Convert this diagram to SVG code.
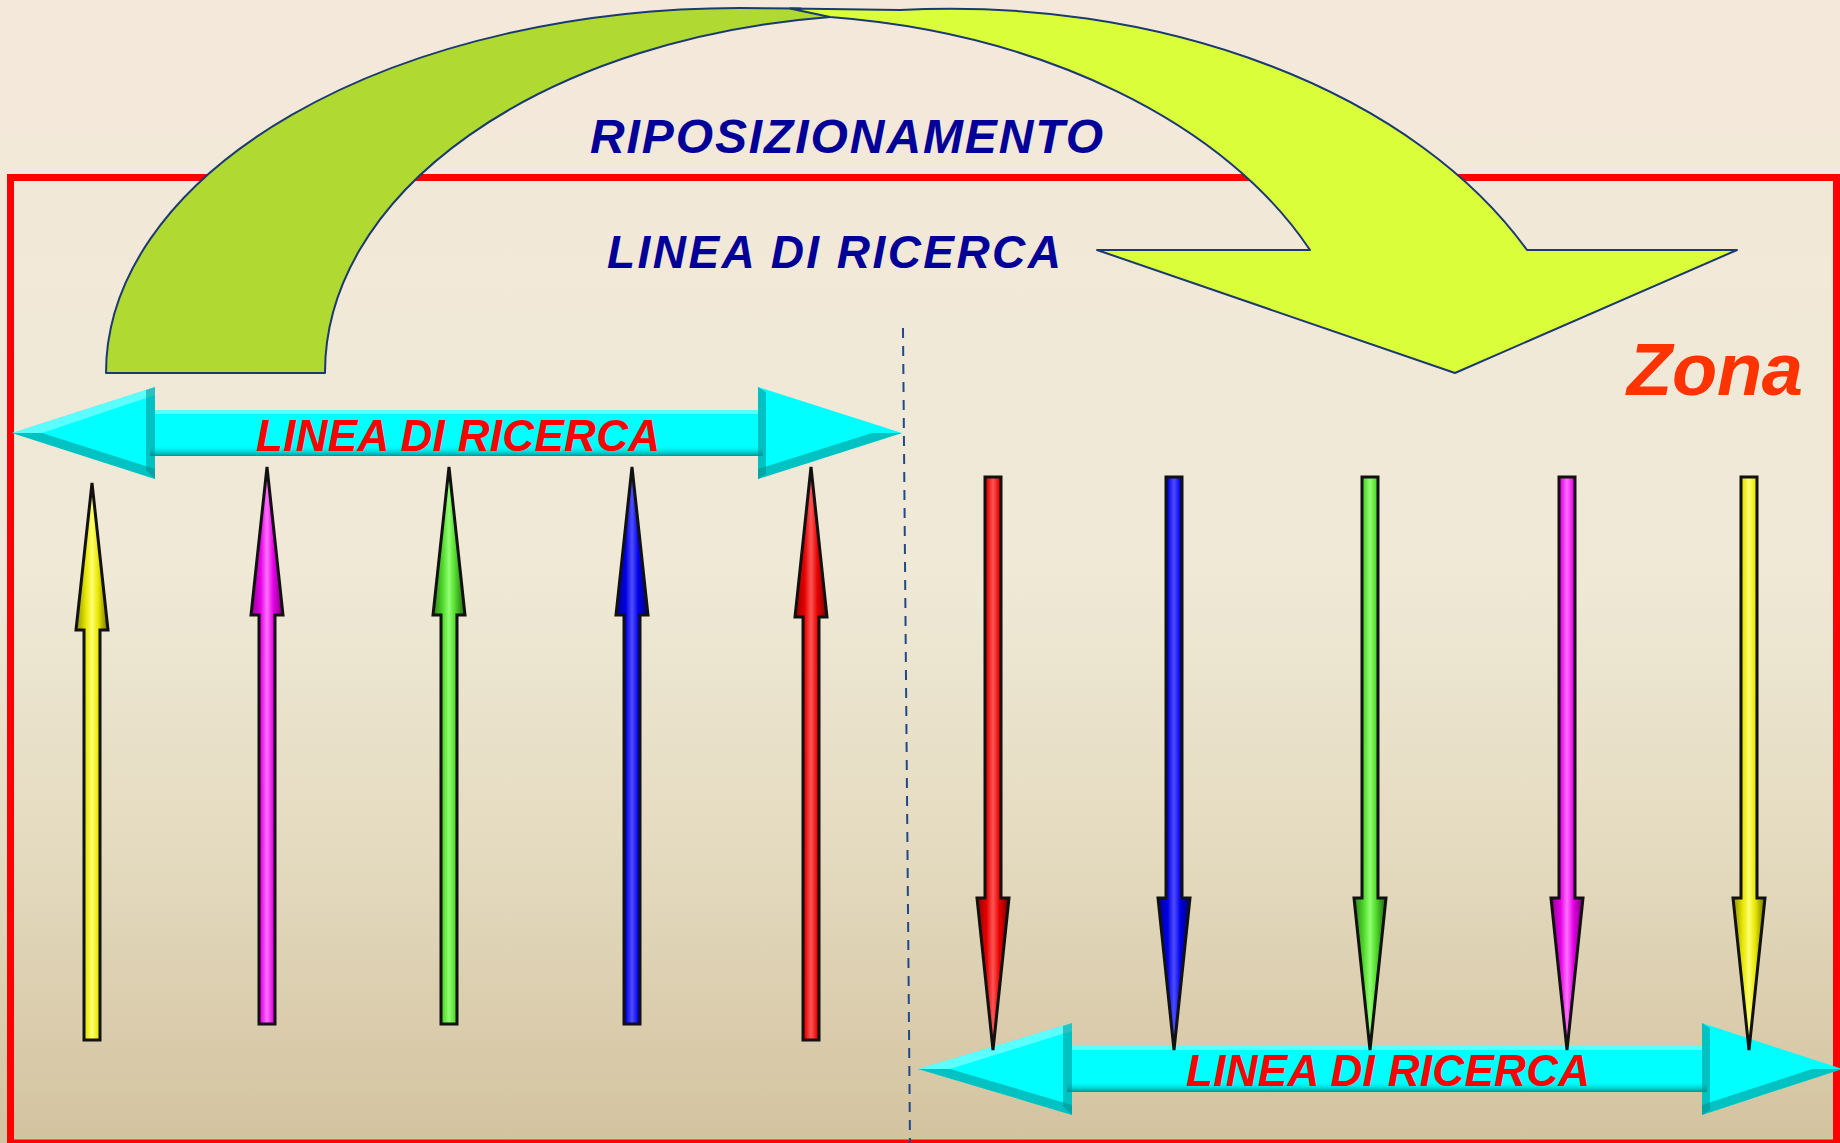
<svg xmlns="http://www.w3.org/2000/svg" width="1840" height="1143" viewBox="0 0 1840 1143">
<style>
.blue{font-family:"Liberation Sans",Arial,sans-serif;font-weight:bold;font-style:italic;fill:#000099}
.redt{font-family:"Liberation Sans Narrow","Liberation Sans",Arial,sans-serif;font-weight:bold;font-style:italic;fill:#FF0000;font-size:44px}
.zona{font-family:"Liberation Sans",Arial,sans-serif;font-weight:bold;font-style:italic;fill:#FF3300;font-size:74px}
.cy{fill:#00FFFF}
.bevd{fill:#008F8F;opacity:.55}
.bevl{fill:#B5FFFF;opacity:.5}
.ar{stroke:#111;stroke-width:3;stroke-linejoin:miter}
.curve{stroke:#1B3A70;stroke-width:2;stroke-linejoin:round}
</style>
<defs>
<linearGradient id="bg" x1="0" y1="0" x2="0" y2="1">
<stop offset="0" stop-color="#F4E8DA"/>
<stop offset="0.5" stop-color="#EFE9D6"/>
<stop offset="0.75" stop-color="#E4DABF"/>
<stop offset="1" stop-color="#D3C39F"/>
</linearGradient>
<linearGradient id="shaftShade" x1="0" y1="0" x2="0" y2="1">
<stop offset="0" stop-color="#00FFFF" stop-opacity="0"/>
<stop offset="1" stop-color="#008080" stop-opacity="0.85"/>
</linearGradient>
<linearGradient id="gY" x1="0" y1="0" x2="1" y2="0">
<stop offset="0" stop-color="#8C8C00"/><stop offset="0.3" stop-color="#E6E600"/><stop offset="0.5" stop-color="#FFFF70"/><stop offset="0.7" stop-color="#E6E600"/><stop offset="1" stop-color="#6E6E00"/>
</linearGradient>
<linearGradient id="gM" x1="0" y1="0" x2="1" y2="0">
<stop offset="0" stop-color="#8C008C"/><stop offset="0.3" stop-color="#E600E6"/><stop offset="0.5" stop-color="#FF70FF"/><stop offset="0.7" stop-color="#E600E6"/><stop offset="1" stop-color="#6E006E"/>
</linearGradient>
<linearGradient id="gG" x1="0" y1="0" x2="1" y2="0">
<stop offset="0" stop-color="#2E7A1A"/><stop offset="0.3" stop-color="#4FD82A"/><stop offset="0.5" stop-color="#90FF70"/><stop offset="0.7" stop-color="#4FD82A"/><stop offset="1" stop-color="#226012"/>
</linearGradient>
<linearGradient id="gB" x1="0" y1="0" x2="1" y2="0">
<stop offset="0" stop-color="#00008C"/><stop offset="0.3" stop-color="#0000E6"/><stop offset="0.5" stop-color="#4D4DFF"/><stop offset="0.7" stop-color="#0000E6"/><stop offset="1" stop-color="#00006E"/>
</linearGradient>
<linearGradient id="gR" x1="0" y1="0" x2="1" y2="0">
<stop offset="0" stop-color="#8C0000"/><stop offset="0.3" stop-color="#E60000"/><stop offset="0.5" stop-color="#FF5555"/><stop offset="0.7" stop-color="#E60000"/><stop offset="1" stop-color="#6E0000"/>
</linearGradient>
</defs>

<rect id="background" x="0" y="0" width="1840" height="1143" fill="url(#bg)"/>

<g id="zona-frame">
<rect x="10.5" y="177.5" width="1826" height="965.5" fill="none" stroke="#FF0000" stroke-width="7"/>
</g>

<g id="divider">
<line x1="903" y1="328" x2="910" y2="1143" stroke="#1F4A8A" stroke-width="2" stroke-dasharray="10 8"/>
</g>

<g id="riposizionamento-arrow">
<path class="curve" fill="#B0D932" d="M106,373 A634,365 0 0 1 740,8 L800,8.5 L830,17 A575,358 0 0 0 325,373 Z"/>
<path class="curve" fill="#DAFF3A" d="M790,8.5 L900,10 A640,425 0 0 1 1527,250 L1737,250 L1455,373 L1097,250 L1310,250 A600,393 0 0 0 830,17 Z"/>
</g>

<g id="label-riposizionamento">
<text class="blue" x="590" y="153" font-size="48" textLength="513">RIPOSIZIONAMENTO</text>
</g>
<g id="label-linea-top">
<text class="blue" x="607" y="268" font-size="46" textLength="454">LINEA DI RICERCA</text>
</g>

<g id="linea-left">
<path class="cy" d="M12,433 L155,387 L155,410 L758,410 L758,387 L902,433 L758,479 L758,456 L155,456 L155,479 Z"/>
<rect x="155" y="410" width="603" height="4" class="bevl"/>
<rect x="150" y="445" width="613" height="11" fill="url(#shaftShade)"/>
<polygon class="bevd" points="12,433 155,479 155,469 42,433"/>
<polygon class="bevl" points="12,433 155,387 155,395 42,433"/>
<polygon class="bevd" points="146,390 155,387 155,479 146,470"/>
<polygon class="bevd" points="758,479 902,433 872,433 758,469"/>
<polygon class="bevd" points="758,387 766,392 766,474 758,479"/>
<text class="redt" x="256" y="451" textLength="404">LINEA DI RICERCA</text>
</g>

<g id="linea-right">
<path class="cy" d="M918,1069 L1072,1023 L1072,1046 L1702,1046 L1702,1023 L1842,1069 L1702,1115 L1702,1092 L1072,1092 L1072,1115 Z"/>
<rect x="1072" y="1046" width="630" height="4" class="bevl"/>
<rect x="1067" y="1081" width="640" height="11" fill="url(#shaftShade)"/>
<polygon class="bevd" points="918,1069 1072,1115 1072,1105 950,1069"/>
<polygon class="bevl" points="918,1069 1072,1023 1072,1031 950,1069"/>
<polygon class="bevd" points="1063,1026 1072,1023 1072,1115 1063,1106"/>
<polygon class="bevd" points="1702,1115 1842,1069 1812,1069 1702,1105"/>
<polygon class="bevd" points="1702,1023 1710,1028 1710,1110 1702,1115"/>
<text class="redt" x="1186" y="1086" textLength="404">LINEA DI RICERCA</text>
</g>

<g id="up-arrows">
<path id="up-yellow" class="ar" fill="url(#gY)" d="M92,483 L108,630 L100,630 L100,1040 L84,1040 L84,630 L76,630 Z"/>
<path id="up-magenta" class="ar" fill="url(#gM)" d="M267,467 L283,615 L275,615 L275,1024 L259,1024 L259,615 L251,615 Z"/>
<path id="up-green" class="ar" fill="url(#gG)" d="M449,467 L465,615 L457,615 L457,1024 L441,1024 L441,615 L433,615 Z"/>
<path id="up-blue" class="ar" fill="url(#gB)" d="M632,467 L648,615 L640,615 L640,1024 L624,1024 L624,615 L616,615 Z"/>
<path id="up-red" class="ar" fill="url(#gR)" d="M811,467 L827,617 L819,617 L819,1040 L803,1040 L803,617 L795,617 Z"/>
</g>

<g id="down-arrows">
<path id="down-red" class="ar" fill="url(#gR)" d="M985,477 L1001,477 L1001,898 L1009,898 L993,1050 L977,898 L985,898 Z"/>
<path id="down-blue" class="ar" fill="url(#gB)" d="M1166,477 L1182,477 L1182,898 L1190,898 L1174,1050 L1158,898 L1166,898 Z"/>
<path id="down-green" class="ar" fill="url(#gG)" d="M1362,477 L1378,477 L1378,898 L1386,898 L1370,1050 L1354,898 L1362,898 Z"/>
<path id="down-magenta" class="ar" fill="url(#gM)" d="M1559,477 L1575,477 L1575,898 L1583,898 L1567,1050 L1551,898 L1559,898 Z"/>
<path id="down-yellow" class="ar" fill="url(#gY)" d="M1741,477 L1757,477 L1757,898 L1765,898 L1749,1050 L1733,898 L1741,898 Z"/>
</g>

<g id="label-zona">
<text class="zona" x="1627" y="395" textLength="176">Zona</text>
</g>
</svg>
